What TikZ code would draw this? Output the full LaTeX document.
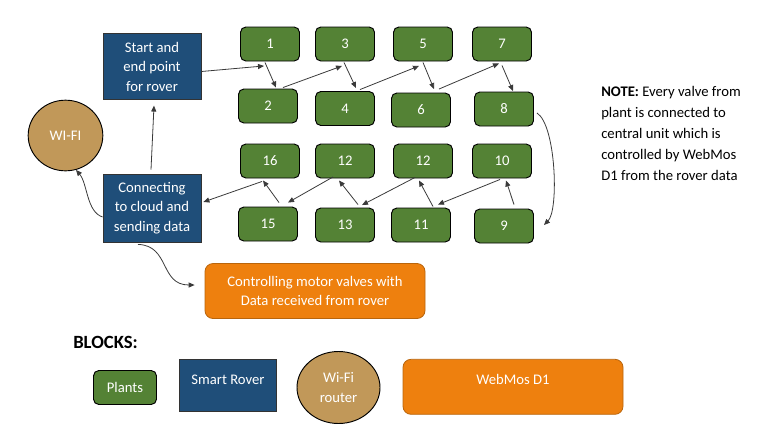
\documentclass[tikz,border=0pt]{standalone}
\usepackage{fontspec}
\setmainfont{Carlito}
\usetikzlibrary{arrows.meta,calc,shapes.geometric}
\definecolor{plantgreen}{HTML}{548235}
\definecolor{roverblue}{HTML}{1F4E79}
\definecolor{wifitan}{HTML}{C19859}
\definecolor{webmosorange}{HTML}{EE800E}
\definecolor{webmosedge}{HTML}{B9650C}
\definecolor{linkgray}{HTML}{3A3A3A}
\tikzset{
	txt/.style={font=\fontsize{11}{14.6}\selectfont},
	plant/.style={txt,draw=black,line width=0.7pt,fill=plantgreen,text=white,rounded corners=4pt,minimum width=44.25pt,minimum height=25.5pt,inner sep=1pt},
	rover/.style={txt,draw=black!80,line width=0.6pt,fill=roverblue,text=white,minimum width=73.5pt,minimum height=49pt,align=center,inner sep=1pt},
	wifi/.style={txt,draw=black,line width=0.7pt,fill=wifitan,text=white,ellipse,inner sep=0pt,align=center},
	webmos/.style={txt,draw=webmosedge,line width=0.6pt,fill=webmosorange,text=white,rounded corners=6pt,minimum width=165pt,minimum height=41.25pt,align=center},
	link/.style={draw=linkgray,line width=0.6pt,-{Triangle[length=4.5pt,width=3.8pt]}},
}
\begin{document}
\begin{tikzpicture}[x=0.75pt,y=-0.75pt]
	\useasboundingbox (0,0) rectangle (777,447);
	\node[rover] (start) at (152,66.5) {Start and\\end point\\for rover};
	\node[rover,minimum height=51pt] (conn) at (152,208) {Connecting\\to cloud and\\sending data};
	\node[wifi,minimum width=56pt,minimum height=53pt] (wifi) at (65.5,135.5) {WI-FI};
	\foreach \n/\x/\y/\t in {p1/270/44/1, p3/345/44/3, p5/423/44/5, p7/502/44/7, p2/268/106/2, p4/345/108.5/4, p6/421/110/6, p8/504/109/8, p16/270/161/16, p12a/345/161/12, p12b/423/161/12, p10/502/161/10, p15/268/224/15, p13/345/225/13, p11/421/225/11, p9/504/226/9}
		\node[plant] (\n) at (\x,\y) {\t};
	\node[webmos] (ctrl) at (315,291) {Controlling motor valves with\\Data received from rover};

	\draw[link] ($(start.east)+(0,5)$) -- ($(p1.south)+(-6,4.5)$);
	\draw[link] ($(p1.south)+(-5,1)$) -- ($(p2.north)+(8,-1)$);
	\draw[link] ($(p2.north)+(15,-1)$) -- ($(p3.south)+(-3,4.5)$);
	\draw[link] ($(p3.south)+(-1,1)$) -- ($(p4.north)+(11,-3)$);
	\draw[link] ($(p4.north)+(15,-1.5)$) -- ($(p5.south)+(-4,4.5)$);
	\draw[link] ($(p5.south)+(0,1)$) -- ($(p6.north)+(13,-3.5)$);
	\draw[link] ($(p6.north)+(18,-3.5)$) -- ($(p7.south)+(-3,2)$);
	\draw[link] ($(p7.south)+(0,4)$) -- ($(p8.north)+(9,-0.5)$);
	\draw[link] ($(p8.east)+(3,4)$) .. controls ($(p8.east)+(22,16)$) and ($(p9.east)+(25,-16)$) .. ($(p9.east)+(10,-1)$);
	\draw[link] ($(p9.north)+(10,-4)$) -- ($(p10.south)+(4,2)$);
	\draw[link] ($(p10.south)+(-2,1)$) -- ($(p11.north)+(17,-3)$);
	\draw[link] ($(p11.north)+(12,-1)$) -- ($(p12b.south)+(-4,2)$);
	\draw[link] ($(p12b.south)+(-8,-1)$) -- ($(p13.north)+(17,-2.5)$);
	\draw[link] ($(p13.north)+(13,-3)$) -- ($(p12a.south)+(-6,2)$);
	\draw[link] ($(p12a.south)+(-12,-1.5)$) -- ($(p15.north)+(20,-4)$);
	\draw[link] ($(p15.north)+(11,-4)$) -- ($(p16.south)+(-7,2)$);
	\draw[link] ($(p16.south)+(-8,3)$) -- ($(conn.east)+(2,-6)$);
	\draw[link] ($(conn.north)+(-1,-4)$) -- ($(start.south)+(2,6)$);
	\draw[link] ($(conn.west)+(0,9)$) .. controls ($(conn.west)+(-16,4)$) and ($(wifi.center)+(22,48)$) .. (wifi.-73);
	\draw[link] ($(conn.south)+(-14,2)$) .. controls ($(conn.south)+(18,3)$) and ($(ctrl.west)+(-45,-6)$) .. ($(ctrl.west)+(-10,-6)$);

	\node[anchor=west,align=left,inner sep=0pt,font=\fontsize{11}{15.75}\selectfont] (note) at (601,133.5) {\textbf{NOTE:} Every valve from\\plant is connected to\\central unit which is\\controlled by WebMos\\D1 from the rover data};

	\node[anchor=west,inner sep=0pt,font=\fontsize{14}{16}\selectfont\bfseries] (blocks) at (73,342) {BLOCKS:};
	\node[plant,minimum width=47.25pt] (keyplant) at (125,387.5) {Plants};
	\node[rover,minimum width=72.75pt,minimum height=39pt,text height=7.5pt,text depth=8.8pt] (keyrover) at (228,385.5) {Smart Rover};
	\node[wifi,minimum width=62.25pt,minimum height=54pt] (keywifi) at (338.5,387.5) {Wi-Fi\\router};
	\node[webmos,text height=7.5pt,text depth=11pt] (keywebmos) at (513,386.8) {WebMos D1};
\end{tikzpicture}
\end{document}
